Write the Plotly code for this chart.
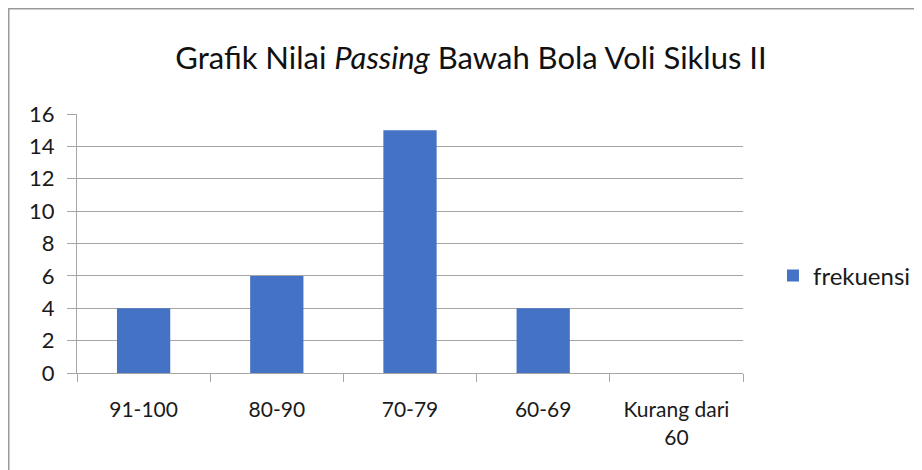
import plotly.graph_objects as go

categories = ["91-100", "80-90", "70-79", "60-69", "Kurang dari<br>60"]
frekuensi = [4, 6, 15, 4, 0]
y_ticks = [0, 2, 4, 6, 8, 10, 12, 14, 16]
series_name = "frekuensi"
title_text = "Grafik Nilai <i>Passing</i> Bawah Bola Voli Siklus II"

FONT = "Lato, 'Open Sans', sans-serif"
GRID = "#a6a6a6"
TXT = "#1a1a1a"

W, H = 914, 462
L, R, T, B = 69, 179, 106, 97
PW, PH = W - L - R, H - T - B

fig = go.Figure()
fig.add_trace(go.Bar(
    x=categories, y=frekuensi, name=series_name,
    marker=dict(color="#4472C4", line=dict(width=0)),
    showlegend=True,
))

fig.update_layout(
    width=W, height=H,
    margin=dict(l=L, r=R, t=T, b=B, autoexpand=False),
    paper_bgcolor="white", plot_bgcolor="white",
    bargap=0.6,
    font=dict(family=FONT, size=22, color=TXT),
    title=dict(text=title_text, x=(463 - L) / PW, xref="paper", xanchor="center",
               y=1 - 50 / H, yref="container", yanchor="middle",
               font=dict(family=FONT, size=31, color="#111111")),
    legend=dict(x=1.045, xanchor="left", y=0.3745, yanchor="middle",
                font=dict(family=FONT, size=24, color=TXT),
                itemwidth=30, bgcolor="rgba(0,0,0,0)"),
    xaxis=dict(showgrid=False, showline=True, linecolor=GRID, linewidth=1,
               ticks="outside", tickson="boundaries", ticklen=8, tickcolor=GRID,
               tickfont=dict(family=FONT, size=21, color=TXT),
               ticklabelstandoff=18),
    yaxis=dict(range=[0, 16], tickvals=y_ticks, showgrid=True, gridcolor=GRID,
               gridwidth=1, zeroline=False, showline=True, linecolor=GRID,
               linewidth=1, ticks="outside", ticklen=9, tickcolor=GRID,
               tickfont=dict(family=FONT, size=22, color=TXT),
               ticklabelstandoff=8),
    shapes=[
        dict(type="rect", xref="paper", yref="paper",
             x0=(0.75 - L) / PW, x1=2.0, y0=-1.0, y1=(PH + T - 0.75) / PH,
             line=dict(color="#9a9a9a", width=1.5), fillcolor="rgba(0,0,0,0)",
             layer="below"),
    ],
)

fig.write_html("out.html")
